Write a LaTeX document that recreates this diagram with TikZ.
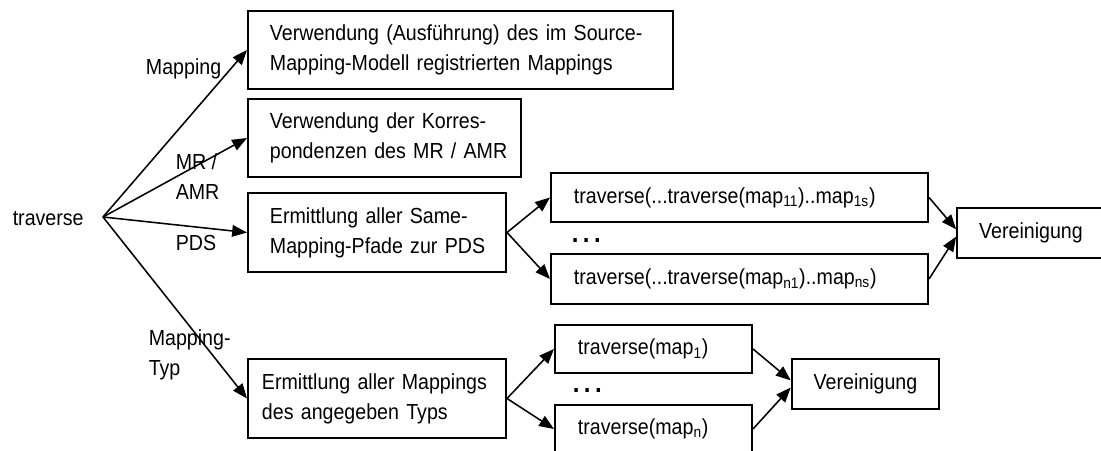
\documentclass[tikz,border=0pt]{standalone}
\usepackage{fontspec}
\setmainfont[FakeStretch=0.9]{Liberation Sans}
\usetikzlibrary{arrows.meta}

\begin{document}
\begin{tikzpicture}[x=0.025cm,y=-0.025cm,line width=1.1pt,
    >={Triangle[length=0.37cm,width=0.29cm]},
    every node/.style={font=\fontsize{15.5}{21.5}\selectfont},
    box/.style={draw,line width=1.4pt,align=left,inner xsep=0.55cm,inner ysep=0pt},
    lab/.style={inner sep=0pt,align=left}]
    \useasboundingbox (0,0) rectangle (1101,451);
    \node[lab,anchor=base west] (0) at (12,226) {traverse};
    \coordinate (gabel) at (103,217);
    \node[box,text width=9.525cm,minimum height=1.95cm] (1) at (460.5,50) {\mbox{Verwendung (Ausführung) des im Source-}\\\mbox{Mapping-Modell registrierten Mappings}};
    \node[box,text width=5.725cm,minimum height=1.95cm] (2) at (384.5,138) {\mbox{Verwendung der Korres-}\\\mbox{pondenzen des MR / AMR}};
    \node[box,text width=5.35cm,minimum height=1.975cm] (3) at (377,232.5) {\mbox{Ermittlung aller Same-}\\\mbox{Mapping-Pfade zur PDS}};
    \node[box,inner xsep=0.35cm,text width=5.75cm,minimum height=1.975cm] (4) at (377,398.5) {\mbox{Ermittlung aller Mappings}\\\mbox{des angegeben Typs}};
    \node[box,inner xsep=0.575cm,text width=8.275cm,minimum height=1.225cm] (5) at (739.5,197.5) {traverse(...traverse(map\textsubscript{11})..map\textsubscript{1s})};
    \node[box,inner xsep=0.575cm,text width=8.275cm,minimum height=1.25cm] (6) at (739.5,279) {traverse(...traverse(map\textsubscript{n1})..map\textsubscript{ns})};
    \node[box,minimum width=3.35cm,minimum height=1.25cm] (7) at (1031,233) {Vereinigung};
    \node[box,inner xsep=0.575cm,text width=3.775cm,minimum height=1.2cm] (8) at (653.5,349) {traverse(map\textsubscript{1})};
    \node[box,inner xsep=0.575cm,text width=3.775cm,minimum height=1.2cm] (9) at (653.5,429) {traverse(map\textsubscript{n})};
    \node[box,minimum width=3.625cm,minimum height=1.25cm] (10) at (865.5,384) {Vereinigung};
    \node[lab,anchor=base west,font=\fontsize{19}{19}\selectfont\bfseries] (d1) at (571,243) {.\,.\,.};
    \node[lab,anchor=base west,font=\fontsize{19}{19}\selectfont\bfseries] (d2) at (572,393) {.\,.\,.};
    \node[lab,anchor=base east] (m1) at (222,75) {Mapping};
    \node[lab,anchor=north west] (m2) at (175,153) {MR /\\AMR};
    \node[lab,anchor=base west] (m3) at (175,251) {PDS};
    \node[lab,anchor=north west] (m4) at (148,329) {Mapping-\\Typ};
    \draw [->] (gabel) -- (1.west);
    \draw [->] (gabel) -- (2.west);
    \draw [->] (gabel) -- (3.west);
    \draw [->] (gabel) -- (4.west);
    \draw [->] (3.east) -- (5.west);
    \draw [->] (3.east) -- (6.west);
    \draw [->] (5.east) -- ([yshift=0.09cm]7.west);
    \draw [->] (6.east) -- ([yshift=-0.09cm]7.west);
    \draw [->] (4.east) -- (8.west);
    \draw [->] (4.east) -- (9.west);
    \draw [->] (8.east) -- ([yshift=0.09cm]10.west);
    \draw [->] (9.east) -- ([yshift=-0.09cm]10.west);
\end{tikzpicture}
\end{document}
